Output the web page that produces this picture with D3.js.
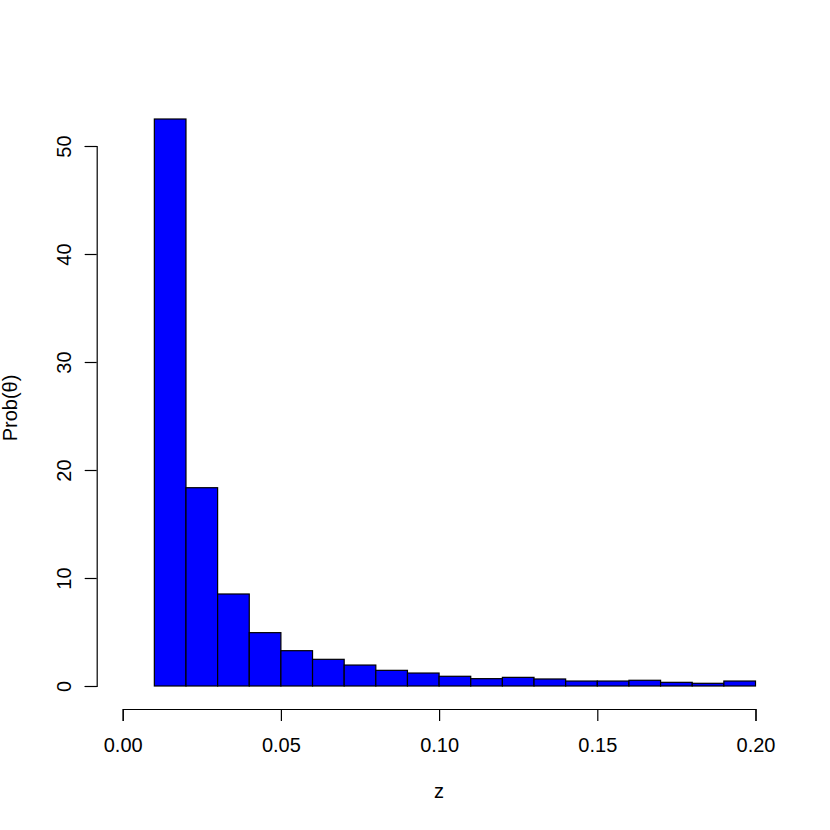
<!DOCTYPE html>
<html>
<head>
<meta charset="utf-8">
<script src="https://cdn.jsdelivr.net/npm/d3@7"></script>
<style>
  body { margin: 0; background: white; }
  svg text { font-family: "Liberation Sans", Arial, sans-serif; font-size: 20px; fill: black; }
</style>
</head>
<body>
<div class="wrapper"></div>
<script>
const w = 830
const h = 830

// histogram bins (left edges) and density values
const binStarts = [0.01, 0.02, 0.03, 0.04, 0.05, 0.06, 0.07, 0.08, 0.09, 0.10,
  0.11, 0.12, 0.13, 0.14, 0.15, 0.16, 0.17, 0.18, 0.19]
const binWidth = 0.01
const density = [52.5, 18.36, 8.52, 4.94, 3.27, 2.47, 1.94, 1.45, 1.2, 0.9,
  0.68, 0.8, 0.65, 0.46, 0.46, 0.53, 0.34, 0.25, 0.46]
const xTicks = [0, 0.05, 0.10, 0.15, 0.20]
const yTicks = [0, 10, 20, 30, 40, 50]
const xLabel = "z"
const yLabel = "Prob(θ)"

const xScale = d3.scaleLinear().domain([0, 0.2]).range([122.7, 755.5])
const yScale = d3.scaleLinear().domain([0, 50]).range([686, 146])

const svg = d3.select(".wrapper")
  .append("svg")
  .attr("width", w)
  .attr("height", h)

svg.selectAll("rect")
  .data(binStarts)
  .enter()
  .append("rect")
  .attr("x", (d) => xScale(d))
  .attr("y", (d, i) => yScale(density[i]))
  .attr("width", (d) => xScale(d + binWidth) - xScale(d))
  .attr("height", (d, i) => yScale(0) - yScale(density[i]))
  .attr("fill", "#0000ff")
  .attr("stroke", "black")
  .attr("stroke-width", 1.2)

const xAxis = d3.axisBottom(xScale)
  .tickValues(xTicks)
  .tickFormat(d3.format(".2f"))
  .tickSizeOuter(0)
  .tickSize(12)
  .tickPadding(17)

const yAxis = d3.axisLeft(yScale)
  .tickValues(yTicks)
  .tickSizeOuter(0)
  .tickSize(12)

const gx = svg.append("g")
  .attr("transform", "translate(0, 709)")
  .call(xAxis)
gx.select(".domain").attr("stroke-width", 1.2)
gx.selectAll(".tick line").attr("stroke-width", 1.2)
gx.selectAll("text").style("font-size", "20px").attr("fill", "black")

const gy = svg.append("g")
  .attr("transform", "translate(96.7, 0)")
  .call(yAxis)
gy.select(".domain").attr("stroke-width", 1.2)
gy.selectAll(".tick line").attr("stroke-width", 1.2)
gy.selectAll("text")
  .style("font-size", "20px")
  .attr("fill", "black")
  .attr("x", null)
  .attr("dy", null)
  .attr("text-anchor", "middle")
  .attr("transform", "translate(-26, 0) rotate(-90)")

svg.append("text")
  .attr("x", xScale(0.1))
  .attr("y", 798)
  .attr("text-anchor", "middle")
  .text(xLabel)

svg.append("text")
  .attr("transform", "translate(17, 408) rotate(-90)")
  .attr("text-anchor", "middle")
  .text(yLabel)
</script>
</body>
</html>
